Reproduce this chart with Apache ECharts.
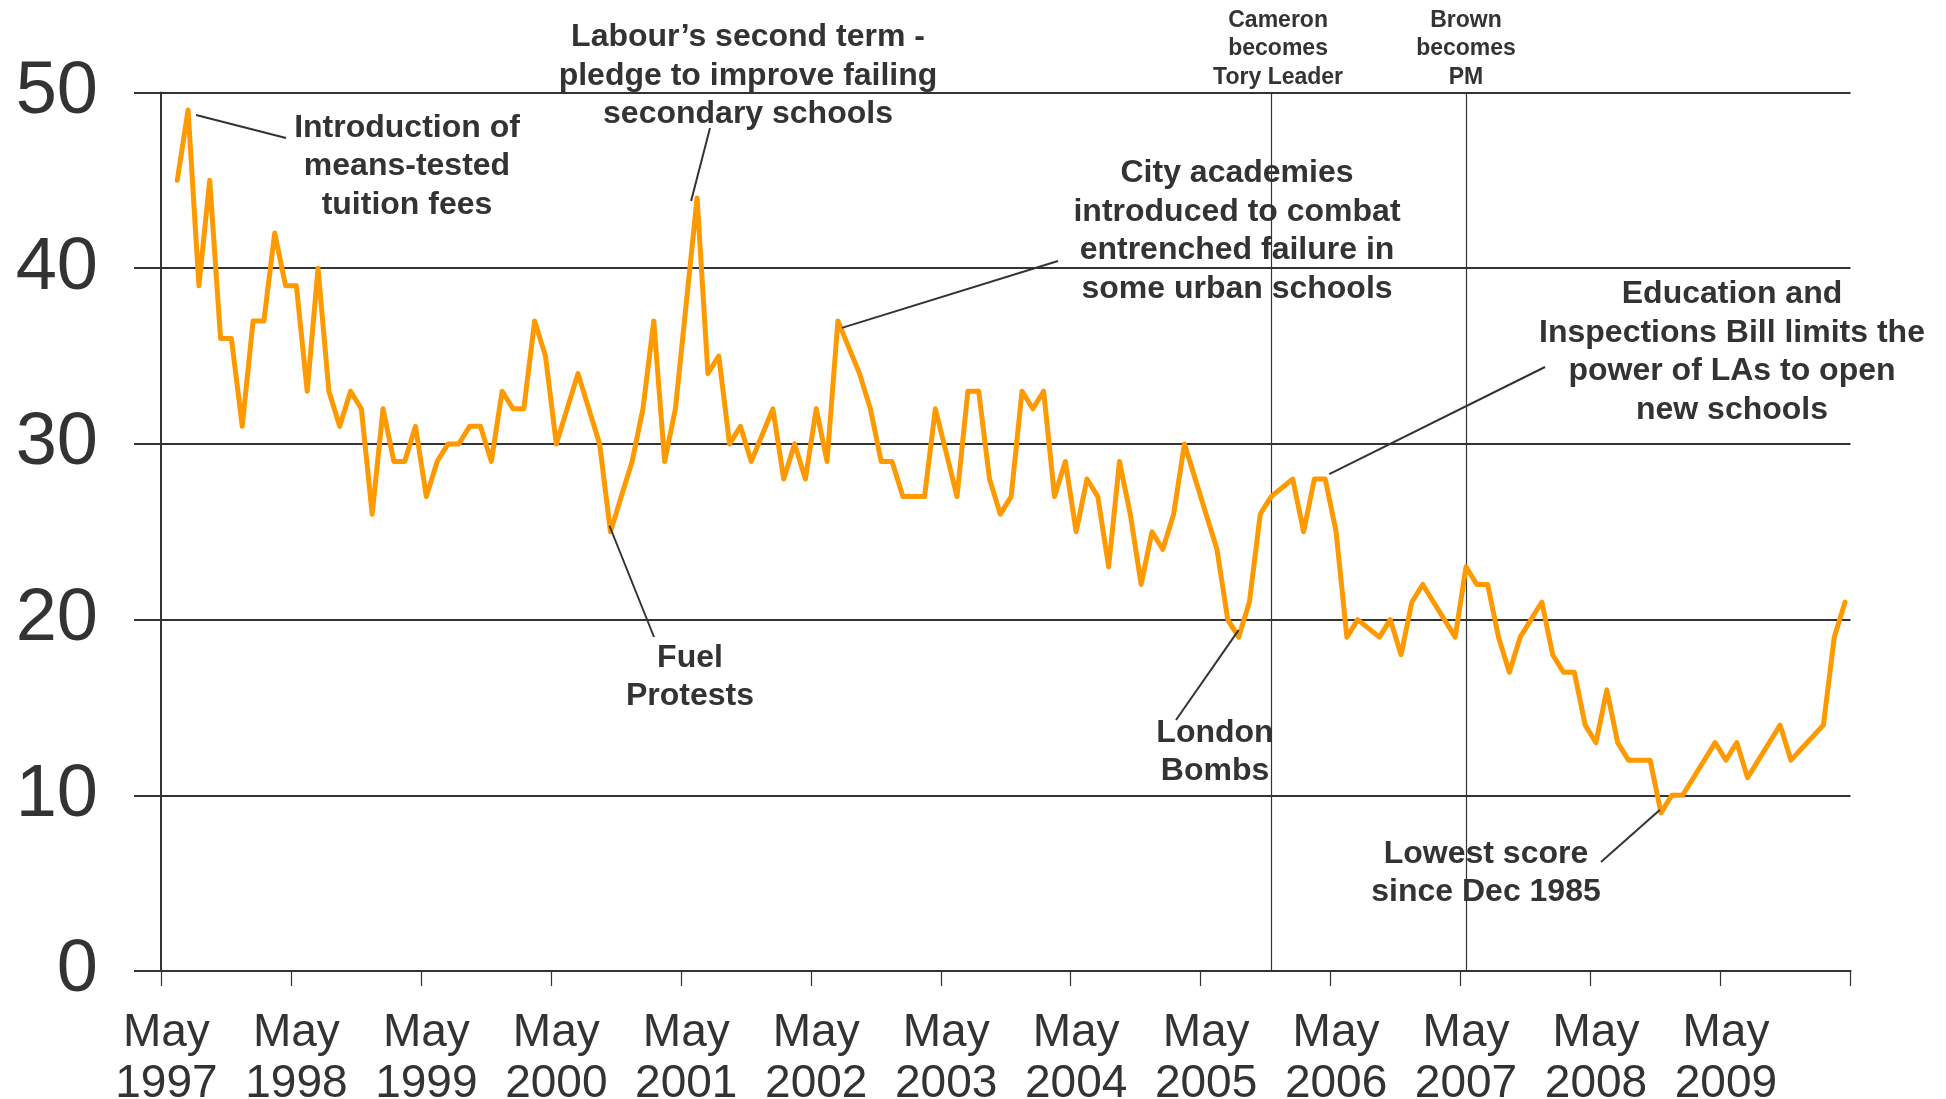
<!DOCTYPE html>
<html><head><meta charset="utf-8">
<script src="https://cdn.jsdelivr.net/npm/echarts@6/dist/echarts.min.js"></script>
<style>html,body{margin:0;padding:0;background:#fff}#c{width:1946px;height:1099px}</style>
</head><body><div id="c"></div>
<script>
// ---------- DATA ----------
const monthNames = ['Jan','Feb','Mar','Apr','May','Jun','Jul','Aug','Sep','Oct','Nov','Dec'];
// monthly categories May 1997 .. Apr 2010
const months = [];
for (let k = 0; k < 156; k++) {
  const m = (4 + k) % 12, y = 1997 + Math.floor((4 + k) / 12);
  months.push(monthNames[m] + ' ' + y);
}
// % naming education as an important issue (null = no reading)
const educationScore = [
  null,45,49,39,45,36,36,31,37,37,42,39,            // May97-Apr98
  39,33,40,33,31,33,32,26,32,29,29,31,             // May98-Apr99
  27,29,30,30,31,31,29,33,32,32,37,35,             // May99-Apr00
  30,null,34,32,30,25,27,29,32,37,29,32,           // May00-Apr01
  null,44,34,35,30,31,29,null,32,28,30,28,         // May01-Apr02
  32,29,37,null,34,32,29,29,27,27,27,32,           // May02-Apr03
  null,27,33,33,28,26,27,33,32,33,27,29,           // May03-Apr04
  25,28,27,23,29,26,22,25,24,26,30,null,           // May04-Apr05
  26,24,20,19,21,26,27,null,28,25,28,28,           // May05-Apr06
  25,19,20,null,19,20,18,21,22,null,null,19,       // May06-Apr07
  23,22,22,19,17,19,null,21,18,17,17,14,           // May07-Apr08
  13,16,13,12,12,12,9,10,10,11,null,13,            // May08-Apr09
  12,13,11,12,null,14,12,null,null,14,19,21        // May09-Apr10
];
const yTicks = [0, 10, 20, 30, 40, 50];
const events = [
  { label: 'Cameron\nbecomes\nTory Leader', month: 'Nov 2005' },
  { label: 'Brown\nbecomes\nPM', month: 'May 2007' }
];
const annotations = [
  { text: 'Introduction of\nmeans-tested\ntuition fees', month: 'Jul 1997' },
  { text: 'Labour\u2019s second term -\npledge to improve failing\nsecondary schools', month: 'Jun 2001' },
  { text: 'City academies\nintroduced to combat\nentrenched failure in\nsome urban schools', month: 'Jul 2002' },
  { text: 'Education and\nInspections Bill limits the\npower of LAs to open\nnew schools', month: 'Apr 2006' },
  { text: 'Fuel\nProtests', month: 'Oct 2000' },
  { text: 'London\nBombs', month: 'Aug 2005' },
  { text: 'Lowest score\nsince Dec 1985', month: 'Nov 2008' }
];
// ---------- LAYOUT (pixels) ----------
const annLayout = [
  { tx: 407,  ty: 166.5, dx: 8,  dy: 5,  lx: 286,  ly: 138 },
  { tx: 748,  ty: 75.7,  dx: -6, dy: 3,  lx: 710,  ly: 128 },
  { tx: 1237, ty: 231,   dx: 4,  dy: 7,  lx: 1058, ly: 261 },
  { tx: 1732, ty: 352,   dx: 4,  dy: -5, lx: 1545, ly: 367 },
  { tx: 690,  ty: 677,   dx: -1, dy: -6, lx: 654,  ly: 637 },
  { tx: 1215, ty: 752,   dx: 0,  dy: -7, lx: 1176, ly: 720 },
  { tx: 1486, ty: 873,   dx: -1, dy: -3, lx: 1601, ly: 862 }
];
const eventLabelShift = [7, 0];
const FONT = "'Liberation Sans', Arial, Helvetica, sans-serif";
const INK = '#333333';

const chart = echarts.init(document.getElementById('c'));
chart.setOption({
  animation: false,
  backgroundColor: '#ffffff',
  grid: { left: 161, right: 95.5, top: 92.5, bottom: 128, containLabel: false, outerBoundsMode: 'none' },
  xAxis: {
    type: 'category',
    data: months,
    boundaryGap: true,
    axisLine: { show: true, lineStyle: { color: INK, width: 2 } },
    axisTick: { show: true, interval: 11, length: 15, lineStyle: { color: INK, width: 1.2 } },
    axisLabel: {
      interval: 11, margin: 37, color: INK, fontFamily: FONT, fontSize: 46, lineHeight: 51,
      formatter: v => v.replace(' ', '\n')
    },
    splitLine: { show: false }
  },
  yAxis: {
    type: 'value', min: yTicks[0], max: yTicks[yTicks.length - 1], interval: 10,
    axisLine: { show: true, lineStyle: { color: INK, width: 2 } },
    axisTick: { show: true, length: 27, lineStyle: { color: INK, width: 2 } },
    axisLabel: { margin: 63, color: INK, fontFamily: FONT, fontSize: 74 },
    splitLine: { show: true, lineStyle: { color: INK, width: 2 } }
  },
  series: [{
    type: 'line',
    data: educationScore,
    connectNulls: true,
    symbol: 'none',
    lineStyle: { color: '#FF9900', width: 5, join: 'round', cap: 'round' },
    markLine: {
      silent: true, symbol: 'none', animation: false,
      lineStyle: { color: INK, width: 1.2, type: 'solid' },
      label: {
        show: true, position: 'end', distance: 1, formatter: p => p.name,
        color: INK, fontFamily: FONT, fontSize: 23, fontWeight: 'bold', lineHeight: 28.5
      },
      data: events.map((e, i) => ({ name: e.label, xAxis: e.month, label: { offset: [eventLabelShift[i], 0] } }))
    },
    z: 5
  }]
});

const graphics = [];
annotations.forEach((a, i) => {
  const L = annLayout[i];
  const idx = months.indexOf(a.month);
  const p = chart.convertToPixel({ seriesIndex: 0 }, [idx, educationScore[idx]]);
  graphics.push({
    type: 'line', silent: true, z: 10,
    shape: { x1: p[0] + L.dx, y1: p[1] + L.dy, x2: L.lx, y2: L.ly },
    style: { stroke: INK, lineWidth: 2 }
  });
  graphics.push({
    type: 'text', silent: true, z: 11, x: L.tx, y: L.ty,
    style: {
      text: a.text, align: 'center', verticalAlign: 'middle',
      fontFamily: FONT, fontSize: 32, fontWeight: 'bold', lineHeight: 38.5, fill: INK
    }
  });
});
chart.setOption({ graphic: graphics });
</script>
</body></html>
